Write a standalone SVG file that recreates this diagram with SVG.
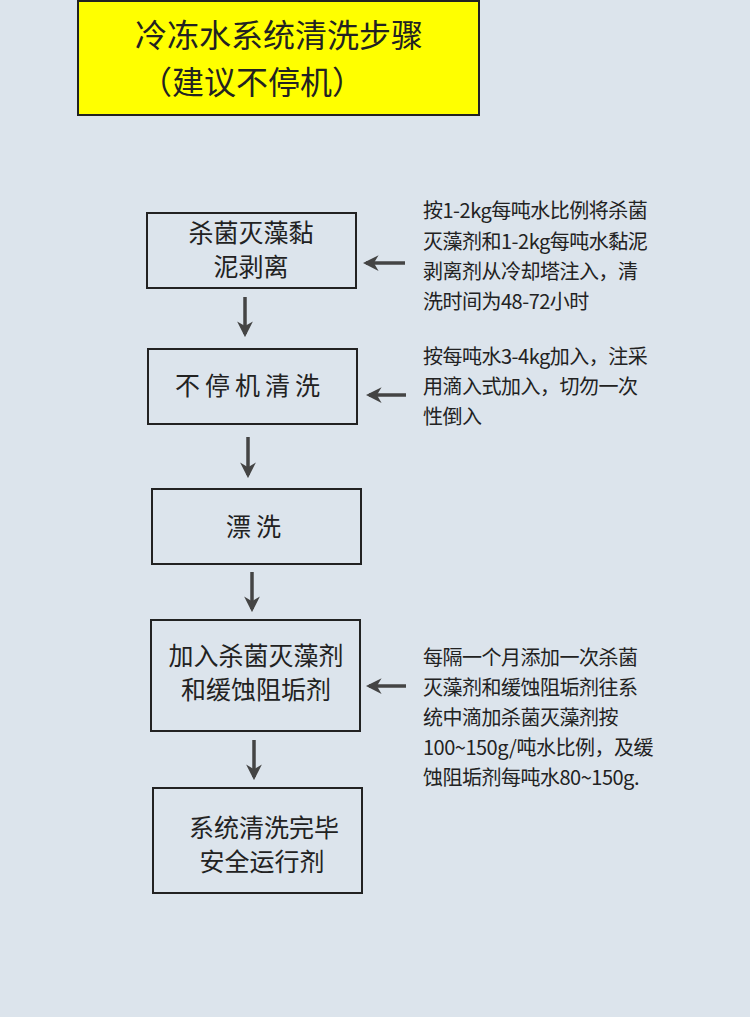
<svg xmlns="http://www.w3.org/2000/svg" width="750" height="1017" viewBox="0 0 750 1017">
<defs>
<style>
.box{fill:none;stroke:#222;stroke-width:2}
.t{font-family:"Noto Sans CJK SC","Noto Sans",sans-serif;font-size:25px;fill:#222;text-anchor:middle}
.n{font-family:"Noto Sans CJK SC","Noto Sans",sans-serif;font-size:20px;fill:#222;letter-spacing:-0.5px}
.c{stroke:#444;stroke-width:3.5;fill:none;marker-end:url(#ah)}
</style>
<marker id="ah" viewBox="0 0 10 10" refX="8" refY="5" markerWidth="4.5" markerHeight="4.5" orient="auto"><path d="M0,0 L10,5 L0,10 L3,5 z" fill="#444"/></marker>
</defs>
<rect width="750" height="1017" fill="#dce4ec"/>
<g id="title"><rect x="78" y="1" width="401" height="114" fill="#ffff00" stroke="#222" stroke-width="2"/>
<text x="135" y="47" font-family="Noto Sans CJK SC,sans-serif" font-size="32" fill="#222">冷冻水系统清洗步骤</text>
<text x="140" y="94" font-family="Noto Sans CJK SC,sans-serif" font-size="32" fill="#222">（建议不停机）</text></g>
<g id="n1"><rect class="box" x="147" y="213" width="209" height="75"/><text class="t" x="251" y="242">杀菌灭藻黏</text><text class="t" x="251" y="276">泥剥离</text></g>
<g id="n2"><rect class="box" x="148" y="349" width="209" height="75"/><text class="t" x="250" y="395" letter-spacing="5">不停机清洗</text></g>
<g id="n3"><rect class="box" x="152" y="489" width="209" height="75"/><text class="t" x="256" y="536" letter-spacing="5">漂洗</text></g>
<g id="n4"><rect class="box" x="151" y="620" width="209" height="111"/><text class="t" x="256" y="665">加入杀菌灭藻剂</text><text class="t" x="256" y="699">和缓蚀阻垢剂</text></g>
<g id="n5"><rect class="box" x="153" y="788" width="209" height="105"/><text class="t" x="264" y="837">系统清洗完毕</text><text class="t" x="262" y="871">安全运行剂</text></g>
<g id="notes">
<text class="n" x="423" y="218">按1-2kg每吨水比例将杀菌</text>
<text class="n" x="423" y="249">灭藻剂和1-2kg每吨水黏泥</text>
<text class="n" x="423" y="279">剥离剂从冷却塔注入，清</text>
<text class="n" x="423" y="309">洗时间为48-72小时</text>
<text class="n" x="423" y="364">按每吨水3-4kg加入，注采</text>
<text class="n" x="423" y="394">用滴入式加入，切勿一次</text>
<text class="n" x="423" y="424">性倒入</text>
<text class="n" x="423" y="665">每隔一个月添加一次杀菌</text>
<text class="n" x="423" y="695">灭藻剂和缓蚀阻垢剂往系</text>
<text class="n" x="423" y="725">统中滴加杀菌灭藻剂按</text>
<text class="n" x="423" y="755">100~150g/吨水比例，及缓</text>
<text class="n" x="423" y="785">蚀阻垢剂每吨水80~150g.</text>
</g>
<g id="connectors">
<line class="c" x1="245" y1="297" x2="245" y2="334"/>
<line class="c" x1="248" y1="437" x2="248" y2="475"/>
<line class="c" x1="252" y1="572" x2="252" y2="609"/>
<line class="c" x1="254" y1="740" x2="254" y2="777"/>
<line class="c" x1="405" y1="263" x2="366" y2="263"/>
<line class="c" x1="406" y1="395" x2="369" y2="395"/>
<line class="c" x1="406" y1="686" x2="369" y2="686"/>
</g>
</svg>
